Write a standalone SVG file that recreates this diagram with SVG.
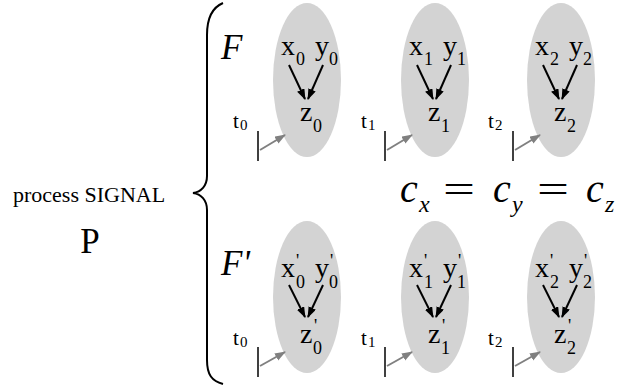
<svg xmlns="http://www.w3.org/2000/svg" width="618" height="387" viewBox="0 0 618 387">
<style>
text{font-family:"Liberation Serif","Times New Roman",serif;fill:#000}
.v{font-size:28px}
.s{font-size:18px}
.t{font-size:21px}
.ts{font-size:15px}
.it{font-style:italic}
.ell{fill:#d3d3d3}
.ba{stroke:#000;stroke-width:2;fill:none;marker-end:url(#ah)}
.ga{stroke:#808080;stroke-width:2;fill:none;marker-end:url(#gh)}
.tick{stroke:#000;stroke-width:1.5}
</style>
<defs>
<marker id="ah" markerUnits="userSpaceOnUse" markerWidth="12" markerHeight="10" refX="10" refY="4" orient="auto"><path d="M0,0 L11,4 L0,8 Z" fill="#000"/></marker>
<marker id="gh" markerUnits="userSpaceOnUse" markerWidth="12" markerHeight="10" refX="10" refY="4" orient="auto"><path d="M0,0 L11,4 L0,8 Z" fill="#808080"/></marker>
</defs>
<g id="brace"><path d="M223 3 C211 8 207 20 207 35 L207 176 C207 186 201 192 193 193 C201 194 207 200 207 210 L207 360 C207 375 212 381 223 384" fill="none" stroke="#000" stroke-width="2"/></g>
<g id="label-process"><text x="13" y="202" style="font-size:22px">process SIGNAL</text></g>
<g id="label-P"><text x="90" y="253" text-anchor="middle" style="font-size:35px">P</text></g>
<g id="label-F"><text x="221" y="59" class="it" style="font-size:35px">F</text></g>
<g id="label-Fp"><text x="221" y="275" class="it" style="font-size:35px">F'</text></g>
<g id="label-eq">
<text x="400" y="202" class="it" style="font-size:40px">c</text><text x="419" y="212" class="it" style="font-size:24px">x</text>
<text x="443" y="203" textLength="32" lengthAdjust="spacingAndGlyphs" style="font-size:40px">=</text>
<text x="493" y="202" class="it" style="font-size:40px">c</text><text x="512" y="212" class="it" style="font-size:24px">y</text>
<text x="537" y="203" textLength="32" lengthAdjust="spacingAndGlyphs" style="font-size:40px">=</text>
<text x="586" y="202" class="it" style="font-size:40px">c</text><text x="605" y="212" class="it" style="font-size:24px">z</text>
</g>

<g id="node-F0" transform="translate(307,80)">
<ellipse class="ell" cx="0" cy="0" rx="34" ry="77"/>
<text class="v" x="-26" y="-25">x</text><text class="s" x="-11" y="-15">0</text>
<text class="v" x="8" y="-25">y</text><text class="s" x="22" y="-15">0</text>
<text class="v" x="-7" y="41">z</text><text class="s" x="6" y="52">0</text>
</g>
<g id="node-F1" transform="translate(435,80)">
<ellipse class="ell" cx="0" cy="0" rx="34" ry="77"/>
<text class="v" x="-26" y="-25">x</text><text class="s" x="-11" y="-15">1</text>
<text class="v" x="8" y="-25">y</text><text class="s" x="22" y="-15">1</text>
<text class="v" x="-7" y="41">z</text><text class="s" x="6" y="52">1</text>
</g>
<g id="node-F2" transform="translate(561,80)">
<ellipse class="ell" cx="0" cy="0" rx="34" ry="77"/>
<text class="v" x="-26" y="-25">x</text><text class="s" x="-11" y="-15">2</text>
<text class="v" x="8" y="-25">y</text><text class="s" x="22" y="-15">2</text>
<text class="v" x="-7" y="41">z</text><text class="s" x="6" y="52">2</text>
</g>
<g id="node-Fp0" transform="translate(307,297)">
<ellipse class="ell" cx="0" cy="0" rx="34" ry="76"/>
<text class="v" x="-26" y="-20">x</text><text class="s" x="-11" y="-30">'</text><text class="s" x="-11" y="-9">0</text>
<text class="v" x="8" y="-20">y</text><text class="s" x="23" y="-30">'</text><text class="s" x="22" y="-9">0</text>
<text class="v" x="-7" y="46">z</text><text class="s" x="7" y="35">'</text><text class="s" x="6" y="57">0</text>
</g>
<g id="node-Fp1" transform="translate(435,297)">
<ellipse class="ell" cx="0" cy="0" rx="34" ry="76"/>
<text class="v" x="-26" y="-20">x</text><text class="s" x="-11" y="-30">'</text><text class="s" x="-11" y="-9">1</text>
<text class="v" x="8" y="-20">y</text><text class="s" x="23" y="-30">'</text><text class="s" x="22" y="-9">1</text>
<text class="v" x="-7" y="46">z</text><text class="s" x="7" y="35">'</text><text class="s" x="6" y="57">1</text>
</g>
<g id="node-Fp2" transform="translate(561,297)">
<ellipse class="ell" cx="0" cy="0" rx="34" ry="76"/>
<text class="v" x="-26" y="-20">x</text><text class="s" x="-11" y="-30">'</text><text class="s" x="-11" y="-9">2</text>
<text class="v" x="8" y="-20">y</text><text class="s" x="23" y="-30">'</text><text class="s" x="22" y="-9">2</text>
<text class="v" x="-7" y="46">z</text><text class="s" x="7" y="35">'</text><text class="s" x="6" y="57">2</text>
</g>

<g id="time-labels">
<text class="t" x="233" y="128">t</text><text class="ts" x="240" y="130">0</text>
<text class="t" x="361" y="128">t</text><text class="ts" x="368" y="130">1</text>
<text class="t" x="488" y="128">t</text><text class="ts" x="495" y="130">2</text>
<text class="t" x="233" y="345">t</text><text class="ts" x="240" y="347">0</text>
<text class="t" x="361" y="345">t</text><text class="ts" x="368" y="347">1</text>
<text class="t" x="488" y="345">t</text><text class="ts" x="495" y="347">2</text>
</g>

<g id="connectors">
<path class="ba" d="M289 65 L305 99"/><path class="ba" d="M323 65 L308 99"/>
<path class="ba" d="M417 65 L433 99"/><path class="ba" d="M451 65 L436 99"/>
<path class="ba" d="M543 65 L559 99"/><path class="ba" d="M577 65 L562 99"/>
<path class="ba" d="M289 285 L305 317"/><path class="ba" d="M323 285 L308 317"/>
<path class="ba" d="M417 285 L433 317"/><path class="ba" d="M451 285 L436 317"/>
<path class="ba" d="M543 285 L559 317"/><path class="ba" d="M577 285 L562 317"/>
<line class="tick" x1="258" y1="131" x2="258" y2="161"/>
<line class="tick" x1="385" y1="131" x2="385" y2="161"/>
<line class="tick" x1="513" y1="131" x2="513" y2="161"/>
<line class="tick" x1="258" y1="347" x2="258" y2="377"/>
<line class="tick" x1="385" y1="347" x2="385" y2="377"/>
<line class="tick" x1="513" y1="347" x2="513" y2="377"/>
<path class="ga" d="M260 150 L285 135"/><path class="ga" d="M387 150 L412 135"/><path class="ga" d="M515 150 L540 135"/>
<path class="ga" d="M260 366 L285 352"/><path class="ga" d="M387 366 L412 352"/><path class="ga" d="M515 366 L540 352"/>
</g>
</svg>
